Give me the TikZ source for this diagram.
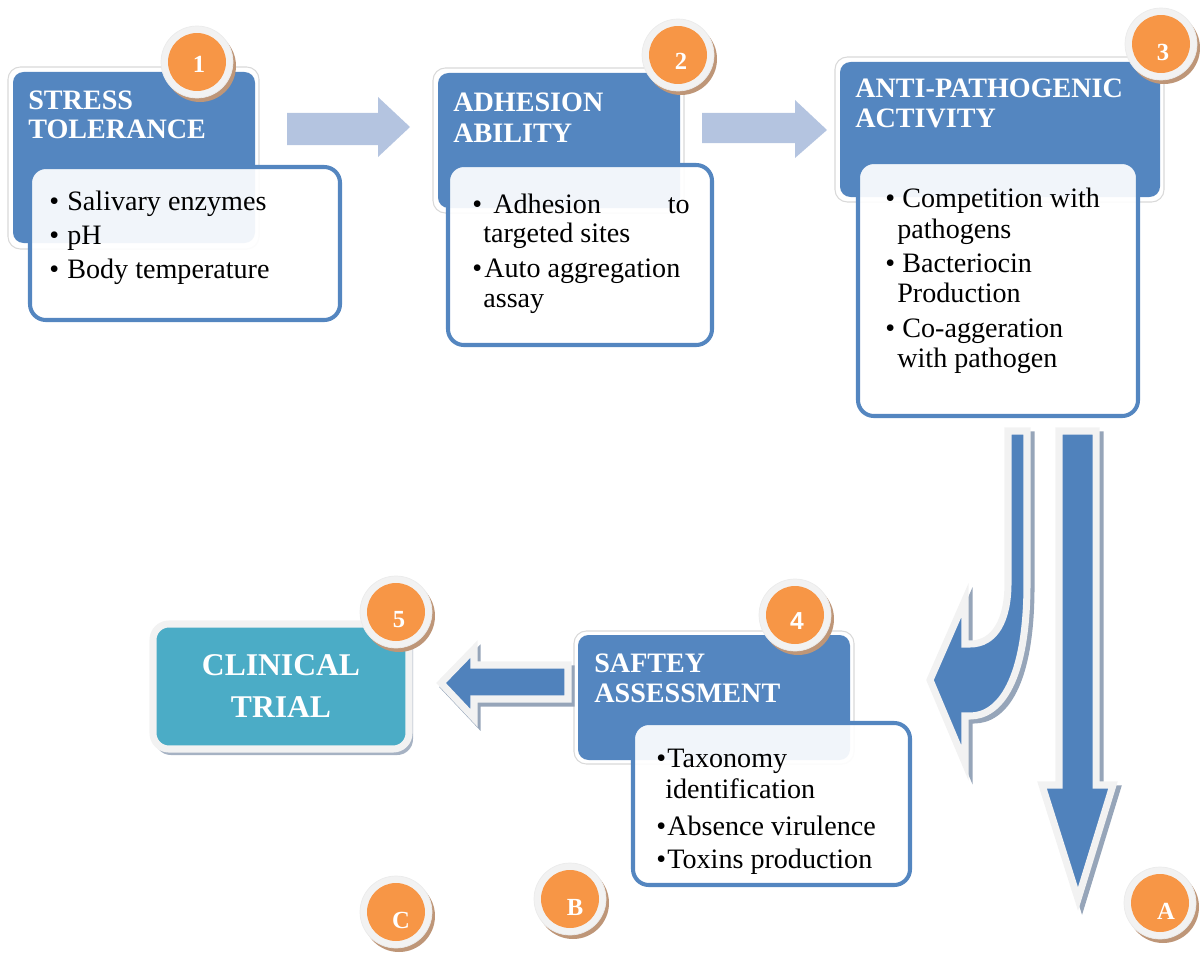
\documentclass[tikz,border=0pt]{standalone}
\usepackage{fontspec}
\setmainfont{Liberation Serif}
\newfontfamily\sansb{Liberation Sans}
\usetikzlibrary{fit}
\definecolor{hblue}{RGB}{84,134,192}
\definecolor{lblue}{RGB}{180,196,224}
\definecolor{ablue}{RGB}{80,130,188}
\definecolor{org}{RGB}{247,150,70}
\definecolor{tealc}{RGB}{75,172,198}
\definecolor{ringc}{RGB}{242,242,242}
\definecolor{bshadow}{RGB}{190,150,120}
\definecolor{gshadow}{RGB}{150,165,185}
\tikzset{
  hdrring/.style={fill=white, draw=black!15, line width=0.6pt, rounded corners=7pt, inner sep=0pt, outer sep=0pt},
  hdr/.style={fill=hblue, rounded corners=6pt, inner sep=0pt, outer sep=0pt},
  wbox/.style={fill=white, fill opacity=0.92, draw=hblue, draw opacity=1, line width=2.3pt, rounded corners=9pt, inner sep=0pt},
  ttl/.style={anchor=base west, inner sep=0pt, text=white, font=\fontsize{16}{19}\selectfont\bfseries},
  txt/.style={anchor=base west, inner sep=0pt, font=\fontsize{16}{19}\selectfont},
  txte/.style={anchor=base east, inner sep=0pt, font=\fontsize{16}{19}\selectfont},
  lightarrow/.style={fill=lblue},
  blockarrow/.style={fill=ablue, draw=ringc, line width=4pt},
  arrowshadow/.style={fill=gshadow, draw=gshadow, line width=4pt},
  badgefont/.style={text=white, inner sep=0pt, font=\fontsize{14}{16}\selectfont\bfseries},
}
\newcommand\badge[6]{%
  \node[circle, fill=bshadow, minimum size=1.44cm, inner sep=0pt] (#1s) at (#2+3,#3+4) {};
  \node[circle, fill=ringc, draw=black!8, line width=0.4pt, minimum size=1.44cm, inner sep=0pt] (#1r) at (#2,#3) {};
  \node[circle, fill=org, minimum size=1.16cm, inner sep=0pt] (#1) at (#2,#3) {};
  \node[badgefont] (#1t) at (#2+#5,#3+#6) {#4};
}
\begin{document}
\begin{tikzpicture}[x=0.02cm,y=-0.02cm]
\useasboundingbox (0,0) rectangle (1200,953);

% ---------- Box 1 ----------
\node[hdrring, fit={(8,67) (259,249)}] (h1r) {};
\node[hdr, fit={(13,72) (255,243)}] (h1) {};
\node[ttl] (t1a) at (28,110) {STRESS};
\node[ttl] (t1b) at (28,138) {TOLERANCE};
\node[wbox, fit={(30,167) (340,320)}] (w1) {};
\node[txt] (b1a) at (49,210) {•};
\node[txt] (b1b) at (67,210) {Salivary enzymes};
\node[txt] (b1c) at (49,244) {•};
\node[txt] (b1d) at (67,244) {pH};
\node[txt] (b1e) at (49,278) {•};
\node[txt] (b1f) at (67,278) {Body temperature};
\badge{n1}{197}{62}{1}{2}{2}

% ---------- arrow 1 -> 2 ----------
\fill[lightarrow] (287,113) -- (378,113) -- (378,97) -- (410,127) -- (378,157) -- (378,145) -- (287,145) -- cycle;

% ---------- Box 2 ----------
\node[hdrring, fit={(433,68) (684,213)}] (h2r) {};
\node[hdr, fit={(438,73) (680,208)}] (h2) {};
\node[ttl] (t2a) at (453,112) {ADHESION};
\node[ttl] (t2b) at (453,142) {ABILITY};
\node[wbox, fit={(448,165) (712,345)}] (w2) {};
\node[txt] (b2a) at (472,213) {•};
\node[txt] (b2b) at (493,213) {Adhesion};
\node[txte] (b2c) at (690,213) {to};
\node[txt] (b2d) at (483,242) {targeted sites};
\node[txt] (b2e) at (472,277) {•};
\node[txt] (b2f) at (484,277) {Auto aggregation};
\node[txt] (b2g) at (483,307) {assay};
\badge{n2}{678}{55}{2}{3}{6}

% ---------- arrow 2 -> 3 ----------
\fill[lightarrow] (702,113) -- (795,113) -- (795,100) -- (827,130) -- (795,158) -- (795,143) -- (702,143) -- cycle;

% ---------- Box 3 ----------
\node[hdrring, fit={(835,57) (1164,202)}] (h3r) {};
\node[hdr, fit={(840,62) (1160,197)}] (h3) {};
\node[ttl] (t3a) at (855,98) {ANTI-PATHOGENIC};
\node[ttl] (t3b) at (855,128) {ACTIVITY};
\node[wbox, fit={(858,162) (1138,416)}] (w3) {};
\node[txt] (b3a) at (885,207) {•};
\node[txt] (b3b) at (902,207) {Competition with};
\node[txt] (b3c) at (897,238) {pathogens};
\node[txt] (b3d) at (885,272) {•};
\node[txt] (b3e) at (902,272) {Bacteriocin};
\node[txt] (b3f) at (897,302) {Production};
\node[txt] (b3g) at (885,337) {•};
\node[txt] (b3h) at (902,337) {Co-aggeration};
\node[txt] (b3i) at (897,367) {with pathogen};
\badge{n3}{1161}{44}{3}{2}{8}

% ---------- curved arrow ----------
\filldraw[arrowshadow, shift={(4,4)}] (1008,431) -- (1027,431) -- (1027,583) .. controls (1027,680) and (1000,716) .. (970,716) -- (965,716) -- (965,763) -- (930,680) -- (965,600) -- (965,644) -- (970,644) .. controls (995,644) and (1008,620) .. (1008,583) -- cycle;
\filldraw[blockarrow] (1008,431) -- (1027,431) -- (1027,583) .. controls (1027,680) and (1000,716) .. (970,716) -- (965,716) -- (965,763) -- (930,680) -- (965,600) -- (965,644) -- (970,644) .. controls (995,644) and (1008,620) .. (1008,583) -- cycle;

% ---------- down arrow ----------
\filldraw[arrowshadow, shift={(4,4)}] (1059,431) -- (1096,431) -- (1096,785) -- (1113,785) -- (1078,899) -- (1042,785) -- (1059,785) -- cycle;
\filldraw[blockarrow] (1059,431) -- (1096,431) -- (1096,785) -- (1113,785) -- (1078,899) -- (1042,785) -- (1059,785) -- cycle;

% ---------- Box 4 ----------
\node[hdrring, fit={(574,631) (854,764)}] (h4r) {};
\node[hdr, fit={(578,635) (850,760)}] (h4) {};
\node[ttl] (t4a) at (594,672) {SAFTEY};
\node[ttl] (t4b) at (594,702) {ASSESSMENT};
\node[wbox, fit={(633,723) (910,885)}] (w4) {};
\node[txt] (b4a) at (656,767) {•};
\node[txt] (b4b) at (667,767) {Taxonomy};
\node[txt] (b4c) at (665,798) {identification};
\node[txt] (b4d) at (656,835) {•};
\node[txt] (b4e) at (667,835) {Absence virulence};
\node[txt] (b4f) at (656,868) {•};
\node[txt] (b4g) at (667,868) {Toxins production};
\node[circle, fill=bshadow, minimum size=1.44cm, inner sep=0pt] (n4s) at (798,619) {};
\node[circle, fill=ringc, draw=black!8, line width=0.4pt, minimum size=1.44cm, inner sep=0pt] (n4r) at (795,615) {};
\node[circle, fill=org, minimum size=1.16cm, inner sep=0pt] (n4) at (795,615) {};
\node[badgefont, font=\fontsize{14}{16}\selectfont\sansb\bfseries] (n4t) at (797,621) {4};

% ---------- left arrow 4 -> 5 ----------
\filldraw[arrowshadow, shift={(3,4)}] (441,683) -- (474,649) -- (474,665) -- (568,665) -- (568,699) -- (474,699) -- (474,718) -- cycle;
\filldraw[blockarrow] (441,683) -- (474,649) -- (474,665) -- (568,665) -- (568,699) -- (474,699) -- (474,718) -- cycle;

% ---------- Box 5 ----------
\node[fill=gshadow!85!white, rounded corners=9pt, inner sep=0pt, fit={(155,627) (413,755)}] (h5s) {};
\node[fill=tealc, draw=ringc, line width=4pt, rounded corners=9pt, inner sep=0pt, fit={(153,624) (409,749)}] (h5) {};
\node[text=white, inner sep=0pt, anchor=base, font=\fontsize{18}{21}\selectfont\bfseries] (t5a) at (281,675) {CLINICAL};
\node[text=white, inner sep=0pt, anchor=base, font=\fontsize{18}{21}\selectfont\bfseries] (t5b) at (281,717) {TRIAL};
\badge{n5}{396}{612}{5}{3}{8}

% ---------- letter badges ----------
\badge{nC}{396}{912}{C}{5}{8}
\badge{nB}{570}{899}{B}{5}{8}
\badge{nA}{1160}{903}{A}{6}{8}
\end{tikzpicture}
\end{document}
